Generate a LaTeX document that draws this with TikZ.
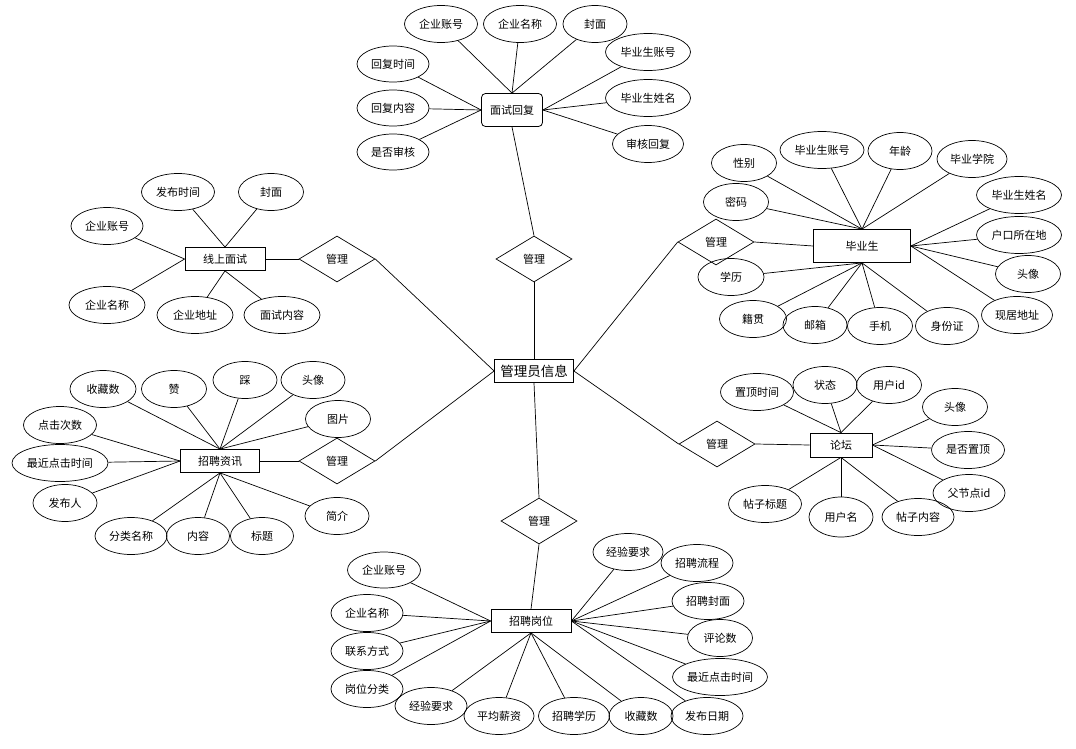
\documentclass[tikz,border=0pt]{standalone}
\usepackage{fontspec}
\newfontfamily\cjk{Noto Sans CJK SC}
\usetikzlibrary{shapes.geometric}
\begin{document}
\begin{tikzpicture}[x=1pt,y=-1pt,
  every node/.style={inner sep=0pt},
  attr/.style={ellipse,draw,line width=0.7pt,minimum height=37pt,font=\cjk\fontsize{11}{13}\selectfont},
  ent/.style={rectangle,draw,fill=white,line width=0.8pt,minimum height=23pt,font=\cjk\fontsize{11}{13}\selectfont},
  rel/.style={diamond,draw,fill=white,line width=0.7pt,aspect=1.65,minimum width=76pt,minimum height=46pt,font=\cjk\fontsize{11}{13}\selectfont},
  link/.style={line width=0.7pt}]
\useasboundingbox (0,0) rectangle (1076,749);

% central entity
\node[ent,minimum width=79pt,font=\cjk\fontsize{13.5}{15}\selectfont] (admin) at (534,371) {管理员信息};

% relationships
\node[rel] (rTop) at (534,259) {管理};
\node[rel] (rGw) at (539,521) {管理};
\node[rel] (rXs) at (337,259) {管理};
\node[rel] (rZx) at (337,461) {管理};
\node[rel] (rBys) at (716,242) {管理};
\node[rel] (rLt) at (717,444) {管理};

% 面试回复
\node[ent,rounded corners=4pt,minimum width=61pt,minimum height=33pt] (msh) at (512,110) {面试回复};
\node[attr,minimum width=73pt] (a1) at (441,24) {企业账号};
\node[attr,minimum width=73pt] (a2) at (520,24) {企业名称};
\node[attr,minimum width=64pt] (a3) at (595,24) {封面};
\node[attr,minimum width=85pt] (a4) at (648,52) {毕业生账号};
\node[attr,minimum width=85pt] (a5) at (648,98) {毕业生姓名};
\node[attr,minimum width=71pt] (a6) at (648,144) {审核回复};
\node[attr,minimum width=72pt,minimum height=36pt] (a7) at (393,64) {回复时间};
\node[attr,minimum width=72pt,minimum height=36pt] (a8) at (393,108) {回复内容};
\node[attr,minimum width=72pt,minimum height=36pt] (a9) at (393,152) {是否审核};
\foreach \n in {a1,a2,a3} \draw[link] (\n) -- (msh.north);
\foreach \n in {a4,a5,a6} \draw[link] (\n) -- (msh.east);
\foreach \n in {a7,a8,a9} \draw[link] (\n) -- (msh.west);

% 毕业生
\node[ent,minimum width=97pt,minimum height=33pt] (bys) at (862,246) {毕业生};
\node[attr,minimum width=65pt] (b1) at (744,163) {性别};
\node[attr,minimum width=84pt] (b2) at (822,150) {毕业生账号};
\node[attr,minimum width=64pt] (b3) at (900,151) {年龄};
\node[attr,minimum width=70pt] (b4) at (972,159) {毕业学院};
\node[attr,minimum width=85pt] (b5) at (1019,195) {毕业生姓名};
\node[attr,minimum width=85pt] (b6) at (1019,235) {户口所在地};
\node[attr,minimum width=65pt] (b7) at (1028,274) {头像};
\node[attr,minimum width=71pt] (b8) at (1017,315) {现居地址};
\node[attr,minimum width=63pt] (b9) at (947,326) {身份证};
\node[attr,minimum width=65pt] (b10) at (880,326) {手机};
\node[attr,minimum width=67pt] (b12) at (753,319) {籍贯};
\node[attr,minimum width=64pt] (b11) at (815,325) {邮箱};
\node[attr,minimum width=66pt] (b13) at (731,277) {学历};
\node[attr,minimum width=65pt] (b14) at (736,202) {密码};
\foreach \n in {b1,b2,b3,b4,b14} \draw[link] (\n) -- (bys.north);
\foreach \n in {b5,b6,b7,b8} \draw[link] (\n) -- (bys.east);
\foreach \n in {b9,b10,b11,b12,b13} \draw[link] (\n) -- (bys.south);

% 线上面试
\node[ent,minimum width=80pt] (xs) at (225,259) {线上面试};
\node[attr,minimum width=73pt] (c1) at (178,192) {发布时间};
\node[attr,minimum width=65pt] (c2) at (271,192) {封面};
\node[attr,minimum width=72pt] (c3) at (107,226) {企业账号};
\node[attr,minimum width=76pt] (c4) at (107,305) {企业名称};
\node[attr,minimum width=76pt] (c5) at (195,315) {企业地址};
\node[attr,minimum width=76pt] (c6) at (282,315) {面试内容};
\foreach \n in {c1,c2} \draw[link] (\n) -- (xs.north);
\foreach \n in {c3,c4} \draw[link] (\n) -- (xs.west);
\foreach \n in {c5,c6} \draw[link] (\n) -- (xs.south);

% 招聘资讯
\node[ent,minimum width=79pt] (zx) at (220,461) {招聘资讯};
\node[attr,minimum width=66pt] (d1) at (103,389) {收藏数};
\node[attr,minimum width=65pt] (d2) at (174,389) {赞};
\node[attr,minimum width=64pt] (d3) at (245,380) {踩};
\node[attr,minimum width=64pt] (d4) at (313,380) {头像};
\node[attr,minimum width=65pt] (d5) at (338,419) {图片};
\node[attr,minimum width=73pt] (d6) at (60,425) {点击次数};
\node[attr,minimum width=96pt] (d7) at (60,463) {最近点击时间};
\node[attr,minimum width=64pt] (d8) at (65,503) {发布人};
\node[attr,minimum width=72pt] (d9) at (131,536) {分类名称};
\node[attr,minimum width=63pt] (d10) at (198,536) {内容};
\node[attr,minimum width=63pt] (d11) at (262,536) {标题};
\node[attr,minimum width=64pt] (d12) at (337,516) {简介};
\foreach \n in {d1,d2,d3,d4,d5} \draw[link] (\n) -- (zx.north);
\foreach \n in {d6,d7,d8} \draw[link] (\n) -- (zx.west);
\foreach \n in {d9,d10,d11,d12} \draw[link] (\n) -- (zx.south);

% 论坛
\node[ent,minimum width=62pt,minimum height=24pt] (lt) at (841,445) {论坛};
\node[attr,minimum width=73pt] (e1) at (757,392) {置顶时间};
\node[attr,minimum width=64pt] (e2) at (825,385) {状态};
\node[attr,minimum width=65pt] (e3) at (889,385) {用户id};
\node[attr,minimum width=65pt] (e4) at (955,407) {头像};
\node[attr,minimum width=73pt] (e5) at (968,450) {是否置顶};
\node[attr,minimum width=72pt] (e6) at (969,493) {父节点id};
\node[attr,minimum width=72pt] (e7) at (918,517) {帖子内容};
\node[attr,minimum width=64pt,minimum height=40pt] (e8) at (841,517) {用户名};
\node[attr,minimum width=73pt] (e9) at (765,504) {帖子标题};
\foreach \n in {e1,e2,e3} \draw[link] (\n) -- (lt.north);
\foreach \n in {e4,e5,e6} \draw[link] (\n) -- (lt.east);
\foreach \n in {e7,e8,e9} \draw[link] (\n) -- (lt.south);

% 招聘岗位
\node[ent,minimum width=80pt] (gw) at (531,621) {招聘岗位};
\node[attr,minimum width=73pt,minimum height=36pt] (f1) at (384,570) {企业账号};
\node[attr,minimum width=72pt] (f2) at (367,613) {企业名称};
\node[attr,minimum width=72pt] (f3) at (367,651) {联系方式};
\node[attr,minimum width=72pt] (f4) at (367,689) {岗位分类};
\node[attr,minimum width=72pt] (f5) at (431,706) {经验要求};
\node[attr,minimum width=70pt] (f6) at (499,716) {平均薪资};
\node[attr,minimum width=71pt] (f7) at (574,716) {招聘学历};
\node[attr,minimum width=64pt] (f8) at (641,716) {收藏数};
\node[attr,minimum width=72pt] (f9) at (707,716) {发布日期};
\node[attr,minimum width=95pt] (f10) at (720,677) {最近点击时间};
\node[attr,minimum width=65pt] (f11) at (720,638) {评论数};
\node[attr,minimum width=72pt] (f12) at (708,601) {招聘封面};
\node[attr,minimum width=72pt] (f13) at (697,563) {招聘流程};
\node[attr,minimum width=70pt] (f14) at (628,552) {经验要求};
\foreach \n in {f1,f2,f3,f4} \draw[link] (\n) -- (gw.west);
\foreach \n in {f5,f6,f7,f8} \draw[link] (\n) -- (gw.south);
\foreach \n in {f9,f10,f11,f12,f13,f14} \draw[link] (\n) -- (gw.east);

% relationship links
\draw[link] (msh.south) -- (rTop.north);
\draw[link] (rTop.south) -- (admin.north);
\draw[link] (admin.south) -- (rGw.north);
\draw[link] (rGw.south) -- (gw.north);
\draw[link] (xs.east) -- (rXs.west);
\draw[link] (rXs.east) -- (admin.west);
\draw[link] (zx.east) -- (rZx.west);
\draw[link] (rZx.east) -- (admin.west);
\draw[link] (admin.east) -- (rBys.west);
\draw[link] (rBys.east) -- (bys.west);
\draw[link] (admin.east) -- (rLt.west);
\draw[link] (rLt.east) -- (lt.west);
\end{tikzpicture}
\end{document}
